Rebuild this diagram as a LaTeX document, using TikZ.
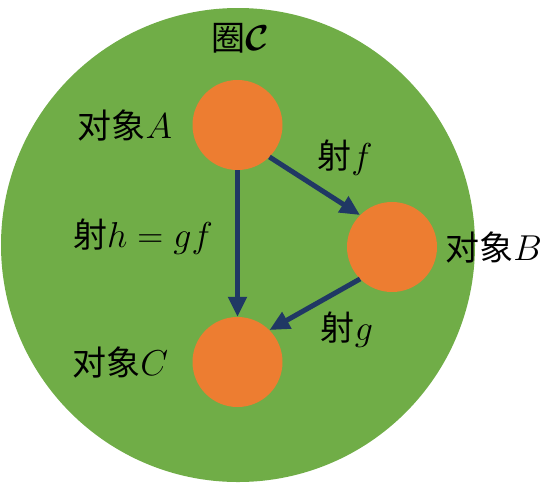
\RequirePackage{fix-cm}
\documentclass[tikz,border=0pt]{standalone}
\usepackage{amsmath,bm}
\usepackage{fontspec}
\newfontfamily\cjk{Noto Sans CJK SC}
\usetikzlibrary{positioning}
\usetikzlibrary{arrows.meta}
\definecolor{GREEN}{HTML}{70AD47}
\definecolor{ORANGE}{HTML}{ED7D31}
\definecolor{NAVY}{HTML}{203864}
\newcommand{\mth}[1]{{\fontsize{36}{40}\selectfont$#1$}}
\tikzset{
	every node/.style = {font=\fontsize{34}{40}\cjk},
	object/.style = {circle, fill=ORANGE, minimum size=90pt, inner sep=0pt},
	morphism/.style = {draw=NAVY, line width=5pt, -{Triangle[length=20pt,width=18pt]}},
	tag/.style = {inner sep=0pt}
}

\begin{document}
\begin{tikzpicture}[x=1pt, y=-1pt]
		\useasboundingbox (0,0) rectangle (559,483);
		% category
		\fill[GREEN] (238,245) circle (237pt);
		\node[tag] (title) at (240,38) {圈\mth{\bm{\mathcal{C}}}};
		% objects
		\node[object] (A) at (237.5,125) {};
		\node[object] (B) at (392,247) {};
		\node[object] (C) at (237.5,362) {};
		\node[tag, left=20pt of A] (labelA) {对象\mth{A}};
		\node[tag, right=8pt of B] (labelB) {对象\mth{B}};
		\node[tag, left=24pt of C] (labelC) {对象\mth{C}};
		% morphisms
		\draw[morphism] (A.-45) -- (B.135);
		\draw[morphism] (B.-135) -- (C.45);
		\draw[morphism] (A.south) -- (C.north);
		\node[tag] (labelf) at (345,158) {射\mth{f}};
		\node[tag] (labelg) at (347,330) {射\mth{g}};
		\node[tag] (labelh) at (143,237) {射\mth{h=gf}};
	\end{tikzpicture}
\end{document}
